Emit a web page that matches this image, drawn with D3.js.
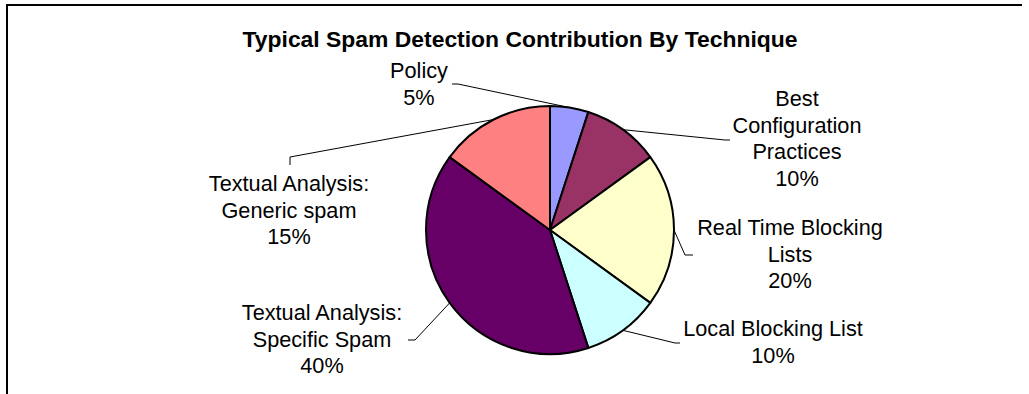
<!DOCTYPE html>
<html>
<head>
<meta charset="utf-8">
<script src="https://cdn.jsdelivr.net/npm/d3@7"></script>
<style>
  html, body { margin: 0; padding: 0; background: #fff; }
  svg { display: block; }
  text { font-family: "Liberation Sans", Arial, sans-serif; fill: #000; }
</style>
</head>
<body>
<svg id="chart" width="1029" height="394"></svg>
<script>
// ---- data ----
const title = "Typical Spam Detection Contribution By Technique";
const categories = [
  "Policy",
  "Best Configuration Practices",
  "Real Time Blocking Lists",
  "Local Blocking List",
  "Textual Analysis: Specific Spam",
  "Textual Analysis: Generic spam"
];
const values = [5, 10, 20, 10, 40, 15];
const labelLines = [
  ["Policy", "5%"],
  ["Best", "Configuration", "Practices", "10%"],
  ["Real Time Blocking", "Lists", "20%"],
  ["Local Blocking List", "10%"],
  ["Textual Analysis:", "Specific Spam", "40%"],
  ["Textual Analysis:", "Generic spam", "15%"]
];
const colors = ["#9999FF", "#993366", "#FFFFCC", "#CCFFFF", "#660066", "#FF8080"];

// ---- layout (label placement) ----
const labelPos = [        // centre x, first baseline y
  [419, 78],
  [797, 106],
  [790, 235],
  [773, 336],
  [322, 320],
  [289, 191]
];
const leaderEnds = [      // [elbow, end] of each leader line
  [[458, 84], [452, 84]],
  [[725, 140], [730, 140]],
  [[685, 255], [693, 255]],
  [[675, 343], [680, 343]],
  [[415, 340], [408, 340]],
  [[290, 157], [290, 165]]
];

const svg = d3.select("#chart");
const cx = 550, cy = 230, r = 124;
const lineH = 26.7;

// frame
svg.append("path")
  .attr("d", "M7,394 L7,5 L1022,5")
  .attr("fill", "none").attr("stroke", "#000").attr("stroke-width", 2);

// title
svg.append("text")
  .attr("x", 520).attr("y", 47)
  .attr("text-anchor", "middle")
  .style("font-size", "22.9px").style("font-weight", "bold")
  .text(title);

const pie = d3.pie().sort(null).value(d => d)(values);
const arc = d3.arc().innerRadius(0).outerRadius(r);

const g = svg.append("g").attr("transform", `translate(${cx},${cy})`);

// leader lines (drawn under the pie)
pie.forEach((p, i) => {
  const a = (p.startAngle + p.endAngle) / 2;
  const start = [cx + r * Math.sin(a), cy - r * Math.cos(a)];
  const pts = [start, leaderEnds[i][0], leaderEnds[i][1]];
  svg.insert("path", "g")
    .attr("d", d3.line()(pts))
    .attr("fill", "none").attr("stroke", "#000").attr("stroke-width", 1);
});

g.selectAll("path.slice")
  .data(pie)
  .join("path")
  .attr("class", "slice")
  .attr("d", arc)
  .attr("fill", (d, i) => colors[i])
  .attr("stroke", "#000").attr("stroke-width", 2)
  .attr("stroke-linejoin", "round");

// labels
labelLines.forEach((lines, i) => {
  const t = svg.append("text")
    .attr("text-anchor", "middle")
    .style("font-size", "21.7px");
  lines.forEach((ln, j) => {
    t.append("tspan")
      .attr("x", labelPos[i][0])
      .attr("y", labelPos[i][1] + j * lineH)
      .text(ln);
  });
});
</script>
</body>
</html>
